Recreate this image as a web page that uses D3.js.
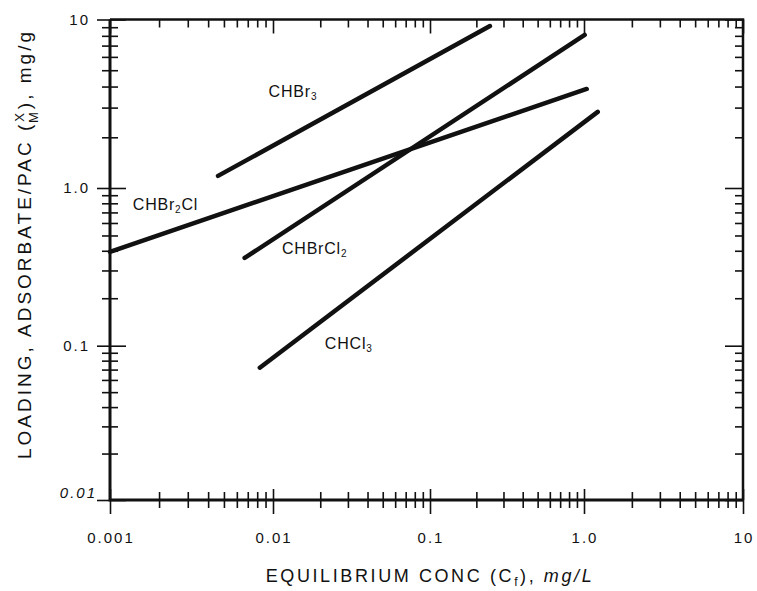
<!DOCTYPE html>
<html>
<head>
<meta charset="utf-8">
<script src="https://cdn.jsdelivr.net/npm/d3@7"></script>
<style>
  body { margin: 0; background: #fff; }
  svg { font-family: "Liberation Sans", Arial, Helvetica, sans-serif; }
  .tick text { display: none; }
</style>
</head>
<body>
<div id="chart"></div>
<script>
// *** data ***
var compounds = ['CHBr3', 'CHBr2Cl', 'CHBrCl2', 'CHCl3'];
var conc_start = [0.0046, 0.001, 0.0067, 0.0083];   // Cf, mg/L
var conc_end = [0.245, 1.04, 1.01, 1.22];
var load_start = [1.18, 0.394, 0.36, 0.072];        // X/M, mg/g
var load_end = [9.15, 3.87, 8.1, 2.83];

// where the compound names sit, in data units
var label_conc = [0.0094, 0.00138, 0.0114, 0.0214];
var label_load = [3.33, 0.694, 0.365, 0.091];

var x_decades = [0.001, 0.01, 0.1, 1, 10];
var x_labels = ['0.001', '0.01', '0.1', '1.0', '10'];
var y_decades = [0.01, 0.1, 1, 10];
var y_labels = ['0.01', '0.1', '1.0', '10'];

var W = 757, H = 591;
var box = {left: 110, right: 743, top: 19.5, bottom: 500};

var svg = d3.select('#chart').append('svg')
    .attr('width', W)
    .attr('height', H);

// the scan is not perfectly even, so each decade gets its own stretch
var x = d3.scaleLog().domain(x_decades).range([box.left, 273, 430, 584, box.right]);
var y = d3.scaleLog().domain(y_decades).range([box.bottom, 345.7, 188, box.top]);

function is_major(d) {
    var e = Math.log10(d);
    return Math.abs(e - Math.round(e)) < 1e-9;
}

// *** axes: bottom and left ticks cross the line, top and right point inward ***
function style_axis(g, major_len) {
    g.select('.domain').remove();
    g.selectAll('.tick line')
        .attr('stroke', '#111')
        .attr('stroke-width', 1.6)
        .each(function(d) {
            if (!is_major(d)) return;
            var sel = d3.select(this);
            if (sel.attr('y2') !== null) {
                sel.attr('y2', (+sel.attr('y2') > 0 ? 1 : -1) * major_len);
            } else {
                sel.attr('x2', (+sel.attr('x2') > 0 ? 1 : -1) * major_len);
            }
        });
}

svg.append('g').attr('transform', 'translate(0,' + box.bottom + ')')
    .call(d3.axisBottom(x).tickSize(8)).call(style_axis, 14);
svg.append('g').attr('transform', 'translate(0,' + box.bottom + ')')
    .call(d3.axisTop(x).tickSize(8)).call(style_axis, 11);
svg.append('g').attr('transform', 'translate(0,' + box.top + ')')
    .call(d3.axisBottom(x).tickSize(8)).call(style_axis, 14);

svg.append('g').attr('transform', 'translate(' + box.left + ',0)')
    .call(d3.axisLeft(y).tickSize(8)).call(style_axis, 13);
svg.append('g').attr('transform', 'translate(' + box.left + ',0)')
    .call(d3.axisRight(y).tickSize(8)).call(style_axis, 16);
svg.append('g').attr('transform', 'translate(' + box.right + ',0)')
    .call(d3.axisLeft(y).tickSize(8)).call(style_axis, 18);

// frame
svg.append('path')
    .attr('d', 'M' + box.left + ',' + box.top + 'V' + box.bottom + 'H' + box.right)
    .attr('fill', 'none').attr('stroke', '#111').attr('stroke-width', 3);
svg.append('path')
    .attr('d', 'M' + box.left + ',' + box.top + 'H' + box.right + 'V' + box.bottom)
    .attr('fill', 'none').attr('stroke', '#111').attr('stroke-width', 2.5);

// tick labels
svg.append('g').selectAll('text')
    .data(x_decades)
    .join('text')
    .attr('x', function(d) { return x(d) + 1; })
    .attr('y', 543)
    .attr('text-anchor', 'middle')
    .attr('font-size', 15)
    .attr('letter-spacing', 2)
    .attr('fill', '#111')
    .text(function(d, i) { return x_labels[i]; });

svg.append('g').selectAll('text')
    .data(y_decades)
    .join('text')
    .attr('x', function(d, i) { return i == 0 ? 97 : 90; })
    .attr('y', function(d, i) { return y(d) + (i == 0 ? -2 : 5); })
    .attr('text-anchor', 'end')
    .attr('font-size', 15)
    .attr('letter-spacing', 2)
    .attr('font-style', function(d, i) { return i == 0 ? 'italic' : 'normal'; })
    .attr('fill', '#111')
    .text(function(d, i) { return y_labels[i]; });

// *** isotherm lines ***
var line = d3.line()
    .x(function(d) { return x(d[0]); })
    .y(function(d) { return y(d[1]); });

svg.append('g').selectAll('path')
    .data(compounds)
    .join('path')
    .attr('d', function(c, i) {
        return line([[conc_start[i], load_start[i]], [conc_end[i], load_end[i]]]);
    })
    .attr('fill', 'none')
    .attr('stroke', '#111')
    .attr('stroke-width', 4.5)
    .attr('stroke-linecap', 'round');

// compound names, digits as subscripts
svg.append('g').selectAll('text')
    .data(compounds)
    .join('text')
    .attr('x', function(c, i) { return x(label_conc[i]); })
    .attr('y', function(c, i) { return y(label_load[i]); })
    .attr('font-size', 16)
    .attr('letter-spacing', 0.8)
    .attr('fill', '#111')
    .each(function(c) {
        var t = d3.select(this);
        c.split(/(\d)/).forEach(function(part) {
            if (!part) return;
            if (/\d/.test(part)) {
                t.append('tspan').attr('font-size', 10).attr('dy', 3).text(part);
            } else {
                t.append('tspan').attr('dy', t.selectAll('tspan').size() ? -3 : 0).text(part);
            }
        });
    });

// *** axis titles ***
var xt = svg.append('text')
    .attr('x', 430)
    .attr('y', 582)
    .attr('text-anchor', 'middle')
    .attr('font-size', 18)
    .attr('letter-spacing', 2.6)
    .attr('fill', '#111');
xt.append('tspan').text('EQUILIBRIUM CONC (C');
xt.append('tspan').attr('font-size', 12).attr('dy', 4).text('f');
xt.append('tspan').attr('dy', -4).text('), ');
xt.append('tspan').attr('font-style', 'italic').text('mg/L');

var yt = svg.append('text')
    .attr('transform', 'translate(31,244) rotate(-90)')
    .attr('text-anchor', 'middle')
    .attr('font-size', 19)
    .attr('letter-spacing', 3)
    .attr('fill', '#111');
yt.append('tspan').text('LOADING, ADSORBATE/PAC (');
yt.append('tspan').attr('font-size', 13).attr('dy', -7).text('X');
yt.append('tspan').attr('font-size', 13).attr('dx', -13).attr('dy', 14).text('M');
yt.append('tspan').attr('dy', -7).text('), mg/g');
</script>
</body>
</html>
